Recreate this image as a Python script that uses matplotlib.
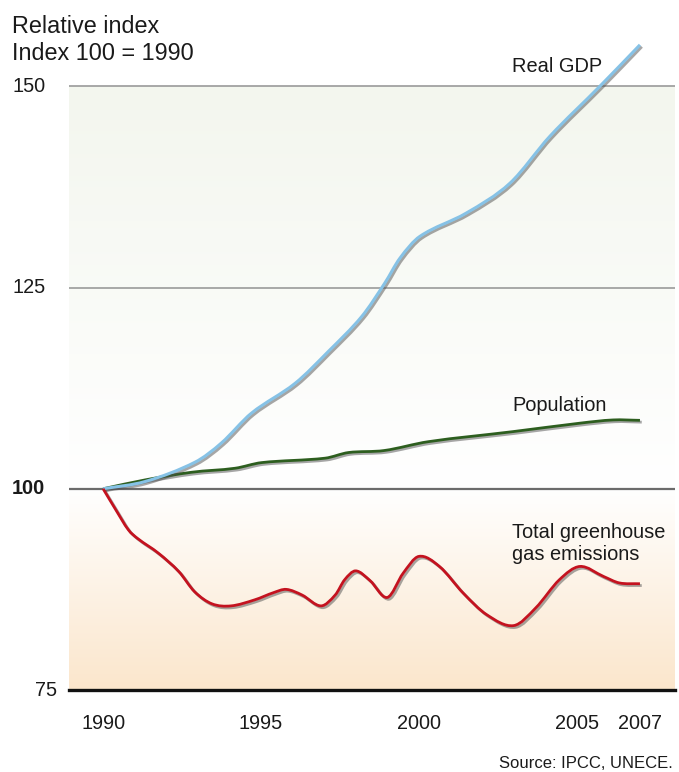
import matplotlib.pyplot as plt
import matplotlib.patheffects as pe
from matplotlib.colors import LinearSegmentedColormap
from matplotlib.path import Path
from matplotlib.patches import PathPatch
import numpy as np

# index values, 1990 = 100
gdp_years = [1990.0, 1991.33, 1992.91, 1993.75, 1994.7, 1996.08, 1997.13, 1998.19,
             1998.92, 1999.4, 2000.03, 2001.5, 2002.88, 2004.15, 2005.73, 2007.0]
gdp_vals = [100.0, 100.9, 103.3, 105.7, 109.4, 113.1, 117.05, 121.4,
            125.55, 128.65, 131.35, 134.25, 137.95, 143.8, 150.0, 155.15]

pop_years = [1990.0, 1991.33, 1992.8, 1994.18, 1995.02, 1997.03, 1997.77, 1998.9,
             2000.3, 2002.98, 2005.1, 2006.15, 2007.0]
pop_vals = [100.0, 101.1, 102.05, 102.55, 103.25, 103.8, 104.5, 104.75,
            105.85, 107.1, 108.15, 108.55, 108.5]

ghg_years = [1990.0, 1990.4, 1990.8, 1991.1, 1991.75, 1992.4, 1992.9, 1993.45,
             1994.05, 1994.8, 1995.4, 1995.8, 1996.3, 1996.9, 1997.35, 1997.65,
             1998.0, 1998.45, 1999.0, 1999.5, 2000.0, 2000.65, 2001.4, 2002.15,
             2003.0, 2003.7, 2004.45, 2005.1, 2005.85, 2006.35, 2007.0]
ghg_vals = [100.0, 97.4, 94.9, 93.8, 92.0, 89.7, 87.2, 85.7,
            85.45, 86.2, 87.1, 87.5, 86.8, 85.45, 86.8, 88.7,
            89.8, 88.6, 86.5, 89.5, 91.6, 90.35, 87.05, 84.35,
            83.0, 85.2, 88.7, 90.35, 89.1, 88.3, 88.2]

year_ticks = [1990, 1995, 2000, 2005, 2007]
index_ticks = [150, 125, 100, 75]

FONT = ['Liberation Sans', 'DejaVu Sans']
plt.rcParams['font.family'] = FONT

def smooth_path(xs, ys):
  # cubic Hermite through the points, handed to matplotlib as Bezier segments
  x = np.asarray(xs, float)
  y = np.asarray(ys, float)
  m = np.empty_like(y)
  m[1:-1] = (y[2:] - y[:-2]) / (x[2:] - x[:-2])
  m[0] = (y[1] - y[0]) / (x[1] - x[0])
  m[-1] = (y[-1] - y[-2]) / (x[-1] - x[-2])
  verts = [(x[0], y[0])]
  codes = [Path.MOVETO]
  for i in range(len(x) - 1):
    h = x[i+1] - x[i]
    verts += [(x[i] + h/3, y[i] + m[i]*h/3),
              (x[i+1] - h/3, y[i+1] - m[i+1]*h/3),
              (x[i+1], y[i+1])]
    codes += [Path.CURVE4] * 3
  return Path(verts, codes)

fig = plt.figure(figsize=(6.79, 7.72), dpi=100)
ax = fig.add_axes([69/679, 82/772, 606/679, 652/772])

x0, x1 = 1988.92, 2008.11

# soft background bands
grad = np.linspace(0, 1, 256).reshape(-1, 1)
green = LinearSegmentedColormap.from_list('g', ['#ffffff', '#f3f6ee'])
peach = LinearSegmentedColormap.from_list('p', ['#fbe6cc', '#ffffff'])
ax.imshow(grad, extent=[x0, x1, 100, 150], aspect='auto', cmap=green,
          origin='lower', zorder=0)
ax.imshow(grad, extent=[x0, x1, 75, 100], aspect='auto', cmap=peach,
          origin='lower', zorder=0)
ax.set_xlim(x0, x1)
ax.set_ylim(75, 156)

for v in (150, 125):
  ax.axhline(v, color='#9a9a9a', lw=1.2, zorder=1)
ax.axhline(100, color='#6b6b6b', lw=1.6, zorder=1)
ax.axhline(75, color='#111111', lw=2.4, zorder=1, clip_on=False)

shadow = [pe.SimpleLineShadow(offset=(1.3, -1.3), shadow_color='#505050', alpha=0.5),
          pe.Normal()]
series = [(pop_years, pop_vals, '#2d5e1f', 2.0, 3),
          (gdp_years, gdp_vals, '#86c2e6', 2.2, 4),
          (ghg_years, ghg_vals, '#c4121f', 2.0, 4)]
for xs, ys, col, lw, z in series:
  patch = PathPatch(smooth_path(xs, ys), fill=False, edgecolor=col, lw=lw,
                    zorder=z, capstyle='butt', clip_on=False)
  patch.set_path_effects(shadow)
  ax.add_patch(patch)

for s in ax.spines.values():
  s.set_visible(False)
ax.set_yticks([])
ax.set_xticks(year_ticks)
ax.set_xticklabels([str(y) for y in year_ticks], fontsize=14.3, color='#1a1a1a')
ax.tick_params(axis='x', length=0, pad=17)

# index labels on the left
for v in index_ticks:
  yf = (82 + (v - 75) / 81 * 652) / 772
  if v == 75:
    fig.text(57/679, yf, str(v), ha='right', va='center', fontsize=14.3, color='#1a1a1a')
  else:
    fig.text(12/679, yf, str(v), ha='left', va='center', fontsize=14.3, color='#1a1a1a',
             fontweight='bold' if v == 100 else 'normal')

# series labels
lab = dict(fontsize=14.4, color='#1a1a1a', ha='left', va='baseline', zorder=5)
ax.text(2002.95, 151.8, 'Real GDP', **lab)
ax.text(2002.95, 109.6, 'Population', **lab)
ax.text(2002.95, 93.9, 'Total greenhouse', **lab)
ax.text(2002.95, 91.2, 'gas emissions', **lab)

fig.text(12/679, 1 - 33/772, 'Relative index', fontsize=16.8, color='#1a1a1a', va='baseline')
fig.text(12/679, 1 - 60/772, 'Index 100 = 1990', fontsize=16.8, color='#1a1a1a', va='baseline')
fig.text(673/679, 1 - 768/772, 'Source: IPCC, UNECE.', fontsize=12, color='#1a1a1a',
         ha='right', va='baseline')

fig.savefig('out.png', dpi=100)
